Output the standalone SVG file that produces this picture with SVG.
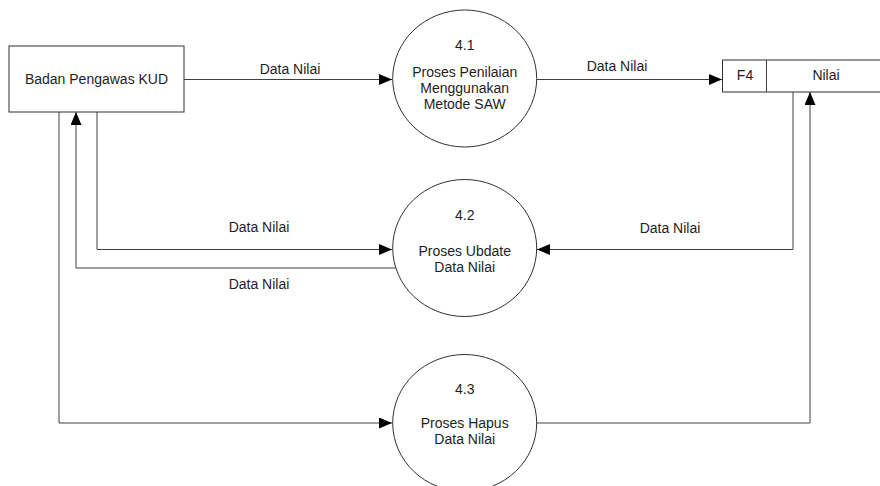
<svg xmlns="http://www.w3.org/2000/svg" width="880" height="486" viewBox="0 0 880 486">
  <style>
    .shape { fill: #ffffff; stroke: #303030; stroke-width: 1; }
    .flow { fill: none; stroke: #404040; stroke-width: 1; }
    .lbl { font-family: "Liberation Sans", Arial, sans-serif; font-size: 14px; fill: #1e1e1e; text-anchor: middle; }
  </style>
  <defs>
    <marker id="arrow" markerUnits="userSpaceOnUse" markerWidth="14" markerHeight="12" refX="13" refY="5.5" orient="auto">
      <path d="M0,0 L13,5.5 L0,11 z" fill="#000000"/>
    </marker>
  </defs>

  <rect width="880" height="486" fill="#ffffff"/>

  <!-- data flows -->
  <g id="connectors">
    <path class="flow" d="M184,79.5 H392" marker-end="url(#arrow)"/>
    <path class="flow" d="M537,79.5 H722" marker-end="url(#arrow)"/>
    <path class="flow" d="M97,112 V249.5 H392" marker-end="url(#arrow)"/>
    <path class="flow" d="M396,268 H76 V112" marker-end="url(#arrow)"/>
    <path class="flow" d="M793,92 V249.5 H537" marker-end="url(#arrow)"/>
    <path class="flow" d="M59,112 V423 H392" marker-end="url(#arrow)"/>
    <path class="flow" d="M537,423 H810 V92" marker-end="url(#arrow)"/>

    <text class="lbl" x="290" y="74">Data Nilai</text>
    <text class="lbl" x="617" y="71">Data Nilai</text>
    <text class="lbl" x="259" y="232">Data Nilai</text>
    <text class="lbl" x="259" y="289">Data Nilai</text>
    <text class="lbl" x="670" y="233">Data Nilai</text>
  </g>

  <!-- external entity -->
  <g id="badan-pengawas">
    <rect class="shape" x="9" y="46" width="175" height="66"/>
    <text class="lbl" x="96.5" y="84">Badan Pengawas KUD</text>
  </g>

  <!-- data store F4 (open on the right) -->
  <g id="store-f4">
    <rect class="shape" x="722.5" y="60" width="170" height="32"/>
    <line class="flow" x1="766.5" y1="60" x2="766.5" y2="92"/>
    <text class="lbl" x="745" y="80">F4</text>
    <text class="lbl" x="826" y="80">Nilai</text>
  </g>

  <!-- processes -->
  <g id="proc-4-1">
    <ellipse class="shape" cx="464.7" cy="78.5" rx="72" ry="68.5"/>
    <text class="lbl" x="464.7" y="49.5">4.1</text>
    <text class="lbl" x="464.7" y="76.5">Proses Penilaian</text>
    <text class="lbl" x="464.7" y="92.8">Menggunakan</text>
    <text class="lbl" x="464.7" y="109.2">Metode SAW</text>
  </g>

  <g id="proc-4-2">
    <ellipse class="shape" cx="464.7" cy="248" rx="72" ry="68.5"/>
    <text class="lbl" x="464.7" y="219.5">4.2</text>
    <text class="lbl" x="464.7" y="255.5">Proses Ubdate</text>
    <text class="lbl" x="464.7" y="272">Data Nilai</text>
  </g>

  <g id="proc-4-3">
    <ellipse class="shape" cx="464.7" cy="423" rx="72" ry="68.5"/>
    <text class="lbl" x="464.7" y="393.5">4.3</text>
    <text class="lbl" x="464.7" y="428">Proses Hapus</text>
    <text class="lbl" x="464.7" y="444">Data Nilai</text>
  </g>
</svg>
